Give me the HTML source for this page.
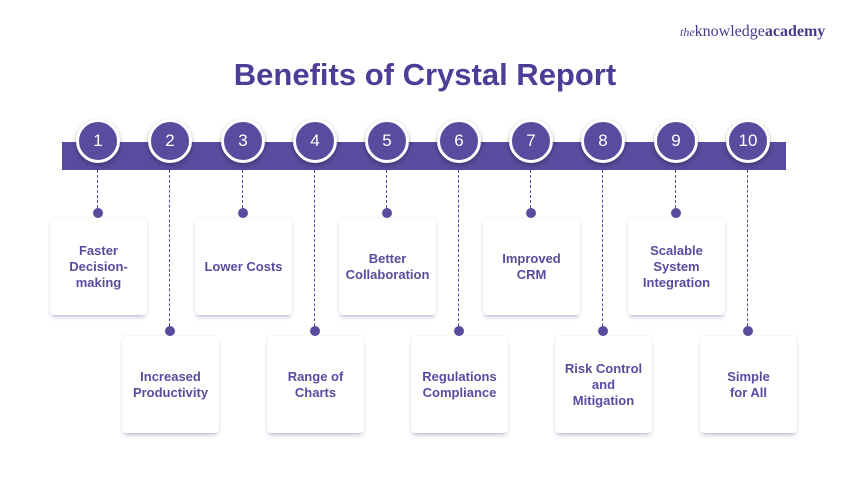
<!DOCTYPE html>
<html><head><meta charset="utf-8"><style>
body{margin:0;width:850px;height:500px;background:#fff;position:relative;overflow:hidden;font-family:"Liberation Sans",sans-serif}
.t{position:absolute;left:0;width:850px;top:57px;text-align:center;font-size:31px;font-weight:bold;color:#4e3c96}
.logo{position:absolute;left:680px;top:23px;font-family:"Liberation Serif",serif;font-size:16px;color:#4a3a8e}
.bar{position:absolute;left:62px;top:142px;width:724px;height:28px;background:#5b4b9f}
.c{position:absolute;width:38px;height:38px;border-radius:50%;background:#5b4b9f;border:3px solid #fff;box-shadow:0 2px 5px rgba(0,0,0,.3);color:#fff;font-size:17px;text-align:center;line-height:38px;top:119px}
.l{position:absolute;width:0;border-left:1.5px dashed #5b4b9f;top:170px}
.d{position:absolute;width:10px;height:10px;border-radius:50%;background:#5b4b9f}
.k{position:absolute;width:97px;height:97px;background:#fff;border-radius:4px;box-shadow:0 4px 5px -2px rgba(91,75,159,.35),0 0 2px rgba(0,0,0,.12);display:flex;align-items:center;justify-content:center;text-align:center;color:#5b4b9f;font-weight:bold;font-size:13px;line-height:16px}
</style></head><body>
<div class="logo"><i style="font-size:12px">the</i>knowledge<b>academy</b></div>
<div class="t">Benefits of Crystal Report</div>
<div class="bar"></div>
<div id="g"></div>
<script>
(function(){
var xs=[98,170,243,315,387,459,531,603,676,748];
var tx=["Faster<br>Decision-<br>making","Increased<br>Productivity","Lower Costs","Range of<br>Charts","Better<br>Collaboration","Regulations<br>Compliance","Improved<br>CRM","Risk Control<br>and<br>Mitigation","Scalable<br>System<br>Integration","Simple<br>for All"];
var h="";
for(var i=0;i<10;i++){var x=xs[i],up=(i%2==0);var dy=up?213:331,ky=up?218:336;
h+='<div class="l" style="left:'+(x-1)+'px;height:'+(dy-170)+'px"></div>';
h+='<div class="d" style="left:'+(x-5)+'px;top:'+(dy-5)+'px"></div>';
h+='<div class="k" style="left:'+(x-48)+'px;top:'+ky+'px">'+tx[i]+'</div>';
h+='<div class="c" style="left:'+(x-22)+'px">'+(i+1)+'</div>';}
document.getElementById("g").innerHTML=h;
})();
</script>
</body></html>
